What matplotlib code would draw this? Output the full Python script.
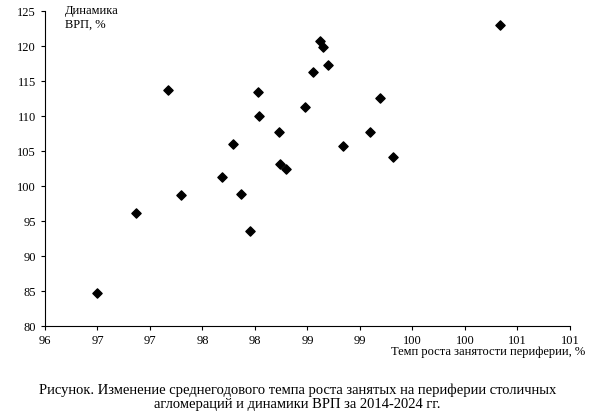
import matplotlib
matplotlib.use("Agg")
import matplotlib.pyplot as plt

plt.rcParams['font.family'] = ['Liberation Serif', 'DejaVu Serif']

emp_growth = [96.50, 96.87, 97.17, 97.30, 97.69, 97.79, 97.87, 97.95, 98.03, 98.04,
              98.23, 98.24, 98.30, 98.48, 98.55, 98.62, 98.65, 98.70, 98.84, 99.10,
              99.19, 99.31, 100.33]
grp_dyn = [84.7, 96.1, 113.7, 98.7, 101.3, 106.0, 98.9, 93.6, 113.4, 110.0,
           107.7, 103.1, 102.4, 111.3, 116.3, 120.7, 119.9, 117.3, 105.7, 107.7,
           112.6, 104.1, 123.0]
x_ticks = [96, 96.5, 97, 97.5, 98, 98.5, 99, 99.5, 100, 100.5, 101]
x_labels = ['96', '97', '97', '98', '98', '99', '99', '100', '100', '101', '101']
y_ticks = list(range(80, 126, 5))

fig = plt.figure(figsize=(5.95, 4.19), dpi=100)
ax = fig.add_axes([45/595, 1-326/419, 525/595, 315/419])
ax.scatter(emp_growth, grp_dyn, marker='D', s=22, color='black', zorder=3)
ax.set_xlim(96, 101)
ax.set_ylim(80, 125)
ax.set_xticks(x_ticks)
ax.set_xticklabels(x_labels, fontsize=9)
ax.set_yticks(y_ticks)
ax.set_yticklabels([str(v) for v in y_ticks], fontsize=9)
for s in ['top', 'right']:
    ax.spines[s].set_visible(False)
ax.tick_params(direction='out', length=3)
fig.text(65/595, 1-18/419, 'Динамика\nВРП, %', fontsize=9, va='center', ha='left')
fig.text(585/595, 1-352/419, 'Темп роста занятости периферии, %', fontsize=9, ha='right', va='center')
fig.text(0.5, 1-397/419, 'Рисунок. Изменение среднегодового темпа роста занятых на периферии столичных\nагломераций и динамики ВРП за 2014-2024 гг.',
         fontsize=10.5, ha='center', va='center', linespacing=1.1)
fig.savefig('out.png', dpi=100)
